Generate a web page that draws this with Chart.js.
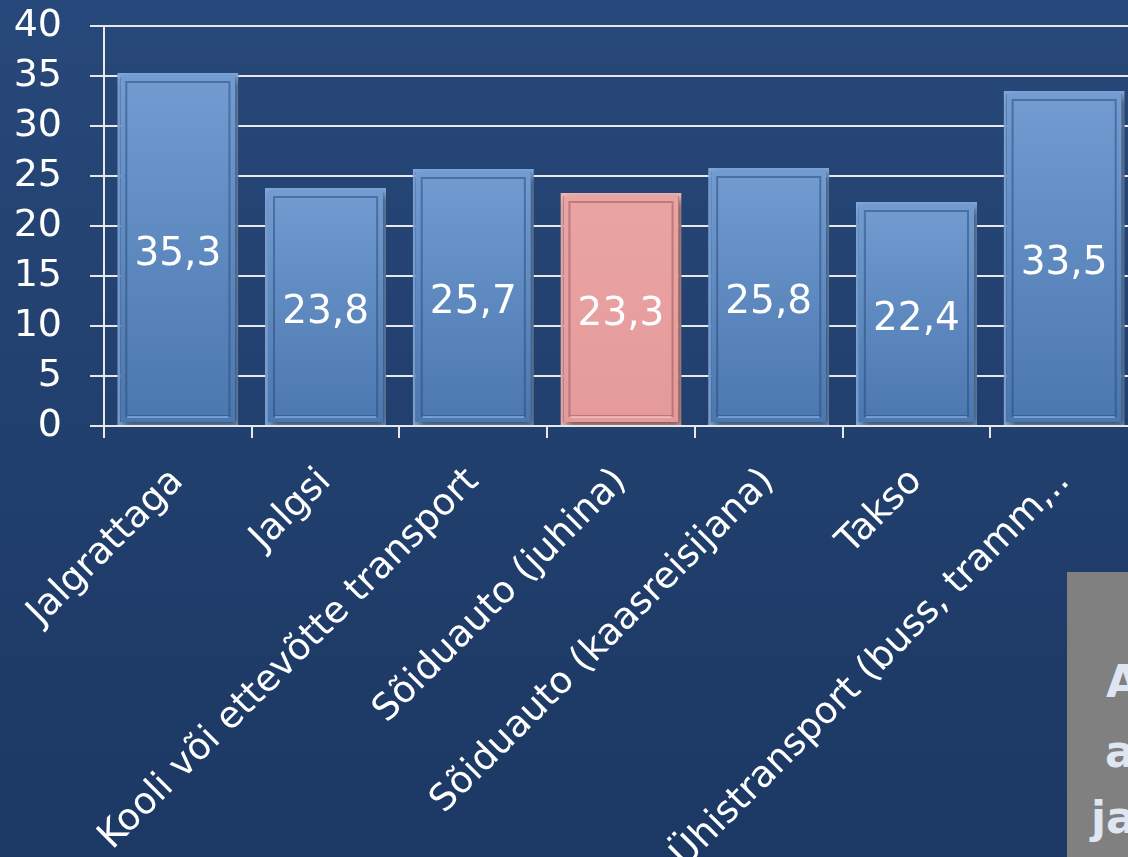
<!DOCTYPE html>
<html>
<head>
<meta charset="utf-8">
<script src="https://cdn.jsdelivr.net/npm/chart.js@4.4.1/dist/chart.umd.min.js"></script>
<style>
  html, body { margin: 0; padding: 0; width: 1128px; height: 857px; overflow: hidden; }
  body { background: linear-gradient(180deg, #27487a 0%, #213f6d 55%, #1c3864 100%); position: relative; font-family: "DejaVu Sans", sans-serif; }
  #wrap { position: absolute; left: 0; top: 0; width: 1140px; height: 857px; }
  #note { position: absolute; left: 1067px; top: 572px; width: 61px; height: 285px; background: #808080; overflow: hidden; }
  #note span { position: absolute; color: #dfe6f1; font-weight: bold; font-size: 44px; line-height: 1; white-space: nowrap; }
</style>
</head>
<body>
<div id="wrap"><canvas id="transportChart"></canvas></div>
<div id="note">
  <span style="left:39px; top:88px;">A</span>
  <span style="left:38px; top:158px;">a</span>
  <span style="left:24px; top:224px;">ja</span>
</div>
<script>
// andmed
const categories = ['Jalgrattaga', 'Jalgsi', 'Kooli või ettevõtte transport', 'Sõiduauto (juhina)',
                    'Sõiduauto (kaasreisijana)', 'Takso', 'Ühistransport (buss, tramm,..'];
const values = [35.3, 23.8, 25.7, 23.3, 25.8, 22.4, 33.5];
const highlightIndex = 3; // punane tulp
const yTicks = [0, 5, 10, 15, 20, 25, 30, 35, 40];

const FONT = '"DejaVu Sans", sans-serif';

function barFill(c) {
    const ys = c.chart.scales.y;
    const red = c.dataIndex === highlightIndex;
    const flat = red ? '#e8a0a0' : '#5f8ac2';
    if (!ys) return flat;
    const top = ys.getPixelForValue(c.raw);
    const bot = ys.getPixelForValue(0);
    if (!isFinite(top) || !isFinite(bot) || top === bot) return flat;
    const g = c.chart.ctx.createLinearGradient(0, top, 0, bot);
    if (red) {
        g.addColorStop(0, '#eaa4a4');
        g.addColorStop(1, '#e49a9a');
    } else {
        g.addColorStop(0, '#729cd2');
        g.addColorStop(1, '#4a77ae');
    }
    return g;
}

// vari tulpade alla
const shadowPlugin = {
    id: 'shadow',
    beforeDatasetDraw(chart) {
        const ctx = chart.ctx;
        ctx.save();
        ctx.shadowColor = 'rgba(0,0,0,0.55)';
        ctx.shadowBlur = 8;
        ctx.shadowOffsetX = 3;
        ctx.shadowOffsetY = 4;
    },
    afterDatasetDraw(chart) {
        chart.ctx.restore();
    }
};

// sisemine raam + väärtused tulba keskel
const barDecor = {
    id: 'barDecor',
    afterDatasetsDraw(chart) {
        const ctx = chart.ctx;
        const meta = chart.getDatasetMeta(0);
        meta.data.forEach((bar, i) => {
            const left = bar.x - bar.width / 2;
            const top = Math.min(bar.y, bar.base);
            const h = Math.abs(bar.base - bar.y);
            const red = i === highlightIndex;
            ctx.save();
            ctx.lineWidth = 2;
            ctx.strokeStyle = red ? 'rgba(150,80,80,0.5)' : 'rgba(40,70,120,0.5)';
            ctx.strokeRect(left + 9, top + 9, bar.width - 18, h - 18);
            ctx.strokeStyle = red ? 'rgba(255,210,210,0.6)' : 'rgba(150,190,240,0.6)';
            ctx.beginPath();
            ctx.moveTo(left + 10, top + h - 8);
            ctx.lineTo(left + bar.width - 10, top + h - 8);
            ctx.stroke();
            ctx.fillStyle = '#ffffff';
            ctx.font = '39px ' + FONT;
            ctx.textAlign = 'center';
            ctx.textBaseline = 'middle';
            ctx.fillText(values[i].toFixed(1).replace('.', ','), bar.x, top + h / 2 + 6);
            ctx.restore();
        });
    }
};

const ctx = document.getElementById('transportChart').getContext('2d');
const transportChart = new Chart(ctx, {
    type: 'bar',
    data: {
        labels: categories,
        datasets: [{
            data: values,
            backgroundColor: barFill,
            borderColor: values.map((v, i) => i === highlightIndex ? '#f1b5b5' : '#7fa7dc'),
            borderWidth: 3,
            borderSkipped: false,
            categoryPercentage: 0.82,
            barPercentage: 1.0
        }]
    },
    options: {
        responsive: true,
        maintainAspectRatio: false,
        animation: false,
        layout: { padding: { top: 26, left: 0, right: 2, bottom: 0 } },
        plugins: {
            legend: { display: false },
            tooltip: { enabled: false }
        },
        scales: {
            x: {
                offset: true,
                grid: { display: true, drawOnChartArea: false, color: '#e8e8e8', lineWidth: 2, tickLength: 12, offset: true },
                border: { display: true, color: '#e8e8e8', width: 2 },
                ticks: {
                    color: '#ffffff',
                    font: { family: FONT, size: 37 },
                    minRotation: 45,
                    maxRotation: 45,
                    autoSkip: false,
                    padding: 22
                },
                afterFit(s) { s.height = 857 - 426; s.paddingTop = 0; }
            },
            y: {
                min: 0,
                max: 40,
                afterBuildTicks(s) { s.ticks = yTicks.map(v => ({ value: v })); },
                grid: { color: '#e8e8e8', lineWidth: 2, tickLength: 14 },
                border: { display: true, color: '#e8e8e8', width: 2 },
                ticks: {
                    color: '#ffffff',
                    font: { family: FONT, size: 38 },
                    padding: 28,
                    autoSkip: false
                },
                afterFit(s) { s.width = 104; s.paddingTop = 0; s.paddingBottom = 0; }
            }
        }
    },
    plugins: [shadowPlugin, barDecor]
});
</script>
</body>
</html>
